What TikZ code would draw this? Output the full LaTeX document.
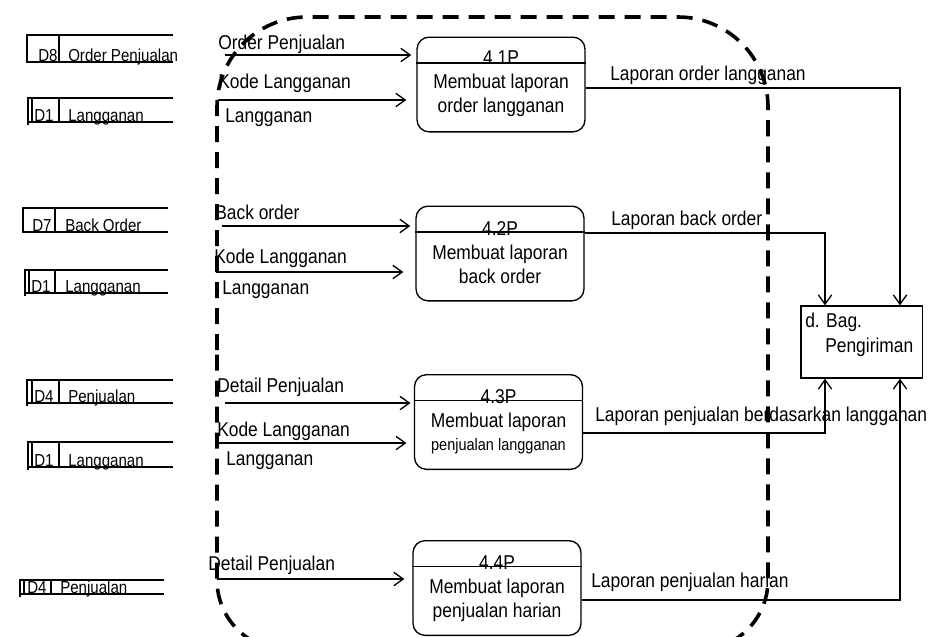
\documentclass[tikz,border=0pt]{standalone}
\usepackage{fontspec}
\setmainfont{Liberation Sans}[FakeStretch=0.87]
\usetikzlibrary{arrows.meta,calc}

\tikzset{
  flow/.style={line width=1pt,-{Straight Barb[length=7pt,width=10pt,line width=1pt]}},
  link/.style={line width=1pt},
  proc/.style={draw,line width=1pt,rounded corners=9pt,minimum width=126pt,minimum height=71pt,inner sep=0pt},
  ent/.style={draw,line width=1pt,minimum width=91pt,minimum height=54pt,inner sep=0pt},
  lbl/.style={inner sep=0pt,anchor=base west,font=\fontsize{15}{18}\selectfont},
  slbl/.style={inner sep=0pt,anchor=base west,font=\fontsize{13}{15}\selectfont},
  ptxt/.style={inner sep=0pt,anchor=base,font=\fontsize{15}{18}\selectfont},
  bound/.style={dash pattern=on 12pt off 7.5pt,line width=2.7pt},
}

\begin{document}
\begin{tikzpicture}[x=0.75pt,y=-0.75pt]
\useasboundingbox (0,0) rectangle (948,636);
\clip (0,0) rectangle (948,636);

% data stores
\node[slbl] (d8id) at (38,61) {D8};
\node[slbl] (d8) at (68,61) {Order Penjualan};
\draw[link] (173,35) -- (27,35) -- (27,62) -- (173,62);
\draw[link] (59,35) -- (59,62);

\node[slbl] (d1aid) at (34,121) {D1};
\node[slbl] (d1a) at (68,121) {Langganan};
\draw[link] (173,98) -- (28,98) -- (28,125);
\draw[link] (28,122) -- (173,122);
\draw[link] (32,98) -- (32,122);
\draw[link] (59,98) -- (59,122);

\node[slbl] (d7id) at (32,231) {D7};
\node[slbl] (d7) at (65,231) {Back Order};
\draw[link] (168,208) -- (23,208) -- (23,232) -- (168,232);
\draw[link] (55,208) -- (55,232);

\node[slbl] (d1bid) at (31,292) {D1};
\node[slbl] (d1b) at (65,292) {Langganan};
\draw[link] (168,270) -- (25,270) -- (25,296);
\draw[link] (25,293) -- (168,293);
\draw[link] (29,270) -- (29,293);
\draw[link] (55,270) -- (55,293);

\node[slbl] (d4aid) at (34,402) {D4};
\node[slbl] (d4a) at (68,402) {Penjualan};
\draw[link] (173,380) -- (27,380) -- (27,406);
\draw[link] (27,403) -- (173,403);
\draw[link] (32,380) -- (32,403);
\draw[link] (59,380) -- (59,403);

\node[slbl] (d1cid) at (34,466) {D1};
\node[slbl] (d1c) at (68,466) {Langganan};
\draw[link] (173,442) -- (28,442) -- (28,470);
\draw[link] (28,467) -- (173,467);
\draw[link] (32,442) -- (32,467);
\draw[link] (59,442) -- (59,467);

\node[slbl] (d4bid) at (27,593) {D4};
\node[slbl] (d4b) at (60,593) {Penjualan};
\draw[link] (164,580) -- (20,580) -- (20,597);
\draw[link] (20,594) -- (164,594);
\draw[link] (24,580) -- (24,594);
\draw[link] (51,580) -- (51,594);

% processes
\node[proc] (p41) at (501,84.5) {};
\draw[link] ($(p41.north west)+(0,26.5)$) -- ($(p41.north east)+(0,26.5)$);
\node[ptxt] (t41) at (501,64) {4.1P};
\node[ptxt] at (501,88) {Membuat laporan};
\node[ptxt] at (501,112) {order langganan};

\node[proc] (p42) at (500,253.5) {};
\draw[link] ($(p42.north west)+(0,26.5)$) -- ($(p42.north east)+(0,26.5)$);
\node[ptxt] (t42) at (500,235) {4.2P};
\node[ptxt] at (500,259) {Membuat laporan};
\node[ptxt] at (500,283) {back order};

\node[proc] (p43) at (498.5,422) {};
\draw[link] ($(p43.north west)+(0,26.5)$) -- ($(p43.north east)+(0,26.5)$);
\node[ptxt] (t43) at (498.5,403) {4.3P};
\node[ptxt] at (498.5,427) {Membuat laporan};
\node[ptxt,font=\fontsize{12.5}{15}\selectfont] at (498.5,450) {penjualan langganan};

\node[proc] (p44) at (497,588) {};
\draw[link] ($(p44.north west)+(0,26.5)$) -- ($(p44.north east)+(0,26.5)$);
\node[ptxt] (t44) at (497,569) {4.4P};
\node[ptxt] at (497,593) {Membuat laporan};
\node[ptxt] at (497,617) {penjualan harian};

% external entity
\node[ent] (bag) at (861.5,342) {};
\node[lbl] at (805,327) {d. Bag.};
\node[lbl] at (825,352) {Pengiriman};

% inputs
\coordinate (i1) at (225,55);
\draw[flow,shorten >=3.75pt] (i1) -- (i1 -| p41.west);
\node[lbl] at (218,49) {Order Penjualan};
\coordinate (i2) at (218,100);
\draw[flow,shorten >=7.5pt] (i2) -- (i2 -| p41.west);
\node[lbl] at (218,88) {Kode Langganan};
\node[lbl] at (225,122) {Langganan};

\coordinate (i3) at (222,226);
\draw[flow,shorten >=3.75pt] (i3) -- (i3 -| p42.west);
\node[lbl] at (215,219) {Back order};
\coordinate (i4) at (216,272);
\draw[flow,shorten >=9pt] (i4) -- (i4 -| p42.west);
\node[lbl] at (214,263) {Kode Langganan};
\node[lbl] at (222,294) {Langganan};

\coordinate (i5) at (225,403);
\draw[flow,shorten >=2.5pt] (i5) -- (i5 -| p43.west);
\node[lbl] at (217,392) {Detail Penjualan};
\coordinate (i6) at (217,443);
\draw[flow,shorten >=5.5pt] (i6) -- (i6 -| p43.west);
\node[lbl] at (217,436) {Kode Langganan};
\node[lbl] at (226,465) {Langganan};

\coordinate (i7) at (217,579);
\draw[flow,shorten >=6pt] (i7) -- (i7 -| p44.west);
\node[lbl] at (208,570) {Detail Penjualan};

% outputs
\draw[flow] ($(p41.east)+(0,3.5)$) -| ($(bag.north)+(38.5,0)$);
\node[lbl] at (610,80) {Laporan order langganan};
\draw[flow] ($(p42.east)+(0,-20.5)$) -| ($(bag.north)+(-36.5,0)$);
\node[lbl] at (611,225) {Laporan back order};
\draw[flow] ($(p43.east)+(0,11)$) -| ($(bag.south)+(-36.5,0)$);
\node[lbl] at (595,421) {Laporan penjualan berdasarkan langganan};
\draw[flow] ($(p44.east)+(0,12)$) -| ($(bag.south)+(38.5,0)$);
\node[lbl] at (591,587) {Laporan penjualan harian};

% boundary
\draw[bound] (217,350) [rounded corners=67.5pt] -- (217,17) -- (768,17) -- (768,350)
  [rounded corners=52.5pt] -- (768,650) -- (217,650) -- (217,350);
\end{tikzpicture}
\end{document}
